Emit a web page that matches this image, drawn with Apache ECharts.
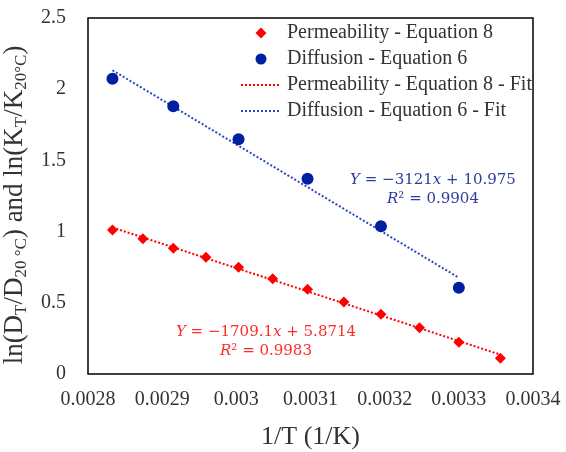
<!DOCTYPE html>
<html>
<head>
<meta charset="utf-8">
<script src="https://cdn.jsdelivr.net/npm/echarts@6/dist/echarts.min.js"></script>
<style>html,body{margin:0;padding:0;background:#fff}#c{width:566px;height:452px}</style>
</head>
<body>
<div id="c"></div>
<script>
// Data
const permX = [0.002833, 0.002874, 0.002915, 0.002959, 0.003003, 0.003049, 0.003096, 0.003145, 0.003195, 0.003247, 0.003300, 0.003356];
const permY = [1.011, 0.950, 0.883, 0.819, 0.749, 0.669, 0.595, 0.506, 0.419, 0.325, 0.223, 0.110];
const diffX = [0.002833, 0.002915, 0.003003, 0.003096, 0.003195, 0.003300];
const diffY = [2.074, 1.880, 1.648, 1.371, 1.037, 0.606];
const permFitX = [0.002833, 0.003356];
const permFitY = [1.029, 0.136];
const diffFitX = [0.002833, 0.003300];
const diffFitY = [2.133, 0.676];
const seriesNames = ['Permeability - Equation 8', 'Diffusion - Equation 6', 'Permeability - Equation 8 - Fit', 'Diffusion - Equation 6 - Fit'];

const zip = (a, b) => a.map((v, i) => [v, b[i]]);
const RED = '#FF0000', BLUE = '#0020A0', BLUE_LINE = '#2B46C2';
const serif = 'Liberation Serif';
const dotPath = 'path://' + Array.from({length: 10}, (_, i) => 'M' + (i * 4 + 1) + ',0h2v2h-2z').join(' ') + ' M0,0h0.01v2h-0.01z M41.99,0h0.01v2h-0.01z';
const diamondPath = 'path://M5,0L10,5L5,10L0,5Z';
const circlePath = 'path://M5,0A5,5,0,1,1,5,10A5,5,0,1,1,5,0Z';

const chart = echarts.init(document.getElementById('c'), null, {renderer: 'canvas'});
chart.setOption({
  animation: false,
  backgroundColor: '#fff',
  grid: {left: 88, right: 33, top: 18, bottom: 78, outerBoundsMode: 'none', containLabel: false,
    show: true, borderColor: '#000', borderWidth: 1.5, backgroundColor: 'transparent'},
  legend: {
    orient: 'vertical', left: 235, top: 18, itemGap: 6, itemWidth: 42, itemHeight: 11,
    textStyle: {fontFamily: serif, fontSize: 20, color: '#333'},
    data: [
      {name: seriesNames[0], icon: diamondPath},
      {name: seriesNames[1], icon: circlePath},
      {name: seriesNames[2], icon: dotPath},
      {name: seriesNames[3], icon: dotPath}
    ]
  },
  xAxis: {
    type: 'value', min: 0.0028, max: 0.0034, interval: 0.0001,
    axisLine: {show: false}, axisTick: {show: false}, splitLine: {show: false},
    axisLabel: {fontFamily: serif, fontSize: 20, color: '#333', margin: 16,
      formatter: v => String(+v.toFixed(4))},
    name: '1/T (1/K)', nameLocation: 'middle', nameGap: 50,
    nameTextStyle: {fontFamily: serif, fontSize: 26, color: '#333'}
  },
  yAxis: {
    type: 'value', min: 0, max: 2.5, interval: 0.5,
    axisLine: {show: false}, axisTick: {show: false}, splitLine: {show: false},
    axisLabel: {fontFamily: serif, fontSize: 20, color: '#333', margin: 22},
    name: '{m|ln(D}{s|T}{m|/D}{s|20 °C}{m|) and ln(K}{s|T}{m|/K}{s|20°C}{m|)}',
    nameLocation: 'middle', nameGap: 44, nameRotate: 90,
    nameTextStyle: {
      color: '#333', padding: [0, 18, 0, 0],
      rich: {
        m: {fontFamily: serif, fontSize: 27, color: '#333', lineHeight: 34},
        s: {fontFamily: serif, fontSize: 17, color: '#333', padding: [13, 0, 0, 0]}
      }
    }
  },
  series: [
    {name: seriesNames[0], type: 'scatter', symbol: 'diamond', symbolSize: 11, itemStyle: {color: RED, opacity: 1}, data: zip(permX, permY), z: 5},
    {name: seriesNames[1], type: 'scatter', symbol: 'circle', symbolSize: 12, itemStyle: {color: BLUE, opacity: 1}, data: zip(diffX, diffY), z: 5},
    {name: seriesNames[2], type: 'line', showSymbol: false, symbol: 'none', itemStyle: {color: RED},
      lineStyle: {color: RED, width: 2, type: [2, 2]}, data: zip(permFitX, permFitY), z: 3},
    {name: seriesNames[3], type: 'line', showSymbol: false, symbol: 'none', itemStyle: {color: BLUE_LINE},
      lineStyle: {color: BLUE_LINE, width: 2, type: [2, 2]}, data: zip(diffFitX, diffFitY), z: 3}
  ],
  graphic: [
    {type: 'text', x: 433, y: 180, style: {
      text: '{i|Y} = −3121{i|x} + 10.975', align: 'center', verticalAlign: 'middle',
      fill: '#2E3C9E', font: '15px "DejaVu Serif"',
      rich: {i: {fontStyle: 'italic', fontFamily: 'DejaVu Serif', fontSize: 15, fill: '#2E3C9E'}}}},
    {type: 'text', x: 433, y: 199, style: {
      text: '{i|R}² = 0.9904', align: 'center', verticalAlign: 'middle',
      fill: '#2E3C9E', font: '15px "DejaVu Serif"',
      rich: {i: {fontStyle: 'italic', fontFamily: 'DejaVu Serif', fontSize: 15, fill: '#2E3C9E'}}}},
    {type: 'text', x: 266, y: 332, style: {
      text: '{i|Y} = −1709.1{i|x} + 5.8714', align: 'center', verticalAlign: 'middle',
      fill: '#FF2A2A', font: '15px "DejaVu Serif"',
      rich: {i: {fontStyle: 'italic', fontFamily: 'DejaVu Serif', fontSize: 15, fill: '#FF2A2A'}}}},
    {type: 'text', x: 266, y: 351, style: {
      text: '{i|R}² = 0.9983', align: 'center', verticalAlign: 'middle',
      fill: '#FF2A2A', font: '15px "DejaVu Serif"',
      rich: {i: {fontStyle: 'italic', fontFamily: 'DejaVu Serif', fontSize: 15, fill: '#FF2A2A'}}}}
  ]
});
</script>
</body>
</html>
